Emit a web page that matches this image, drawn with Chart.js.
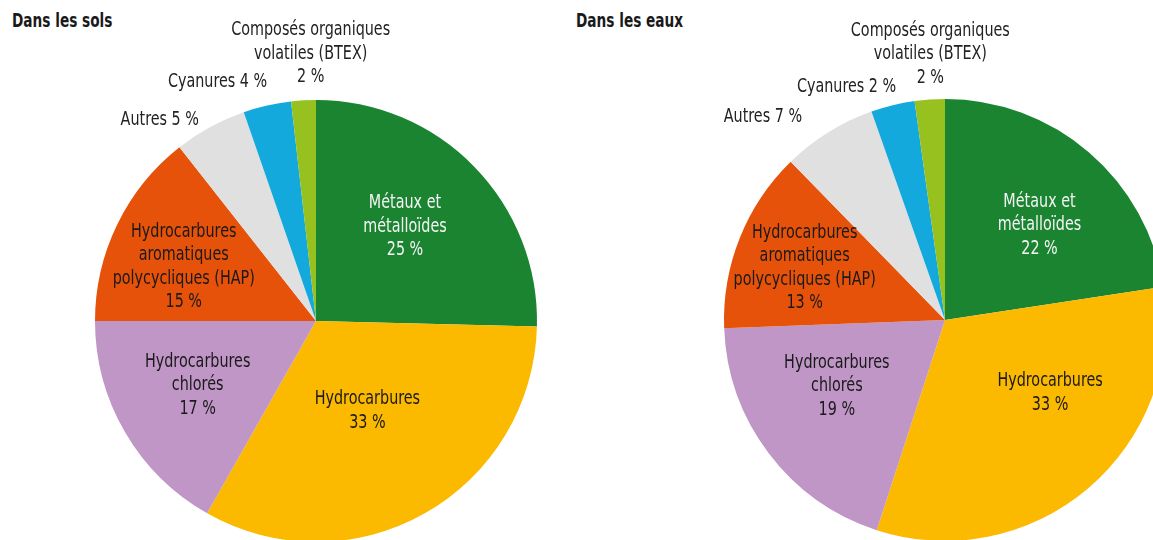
<!DOCTYPE html>
<html lang="fr">
<head>
<meta charset="utf-8">
<script src="https://cdn.jsdelivr.net/npm/chart.js@4.4.1/dist/chart.umd.min.js"></script>
<style>
  html, body { margin: 0; padding: 0; background: #fff; }
  body { width: 1153px; height: 540px; overflow: hidden; position: relative; }
  .title {
    position: absolute; top: 9px;
    font: bold 19px "DejaVu Sans Condensed", "DejaVu Sans", sans-serif;
    color: #1a1a1a;
    transform: scaleX(0.8);
    transform-origin: 0 0;
    white-space: nowrap;
  }
  .wrap { position: absolute; top: 0; }
</style>
</head>
<body>
<div class="title" style="left:12px">Dans les sols</div>
<div class="title" style="left:576px">Dans les eaux</div>
<div class="wrap" style="left:0"><canvas id="sols" width="576" height="560"></canvas></div>
<div class="wrap" style="left:576px"><canvas id="eaux" width="620" height="560"></canvas></div>

<script>
// catégories, dans l'ordre horaire depuis midi
const categories = [
  ['Métaux et', 'métalloïdes'],
  ['Hydrocarbures'],
  ['Hydrocarbures', 'chlorés'],
  ['Hydrocarbures', 'aromatiques', 'polycycliques (HAP)'],
  ['Autres'],
  ['Cyanures'],
  ['Composés organiques', 'volatiles (BTEX)']
];

// parts mesurées sur le dessin (en %)
const valeursSols = [25.4, 32.8, 16.8, 14.4, 5.3, 3.5, 1.8];
const valeursEaux = [22.6, 32.4, 19.4, 13.3, 6.9, 3.2, 2.2];

// pourcentages imprimés sur le graphique
const etiquettesSols = [25, 33, 17, 15, 5, 4, 2];
const etiquettesEaux = [22, 33, 19, 13, 7, 2, 2];

const couleurs = ['#1b8431', '#fbb900', '#bf96c6', '#e6520a', '#e0e0e0', '#13a9dd', '#96c11f'];
const couleursTexte = ['#f4f4f4', '#1a1a1a', '#1a1a1a', '#1a1a1a', '#222', '#222', '#222'];

// placement des étiquettes : [fraction du rayon, décalage angulaire en degrés, sur une ligne ?]
const placeSols = [[0.587, -2.4], [0.469, -0.2], [0.609, 1.8], [0.646, -3.8], [1.153, -9.2, true], [1.17, -9.6, true], [1.21, 2.1]];
const placeEaux = [[0.605, 4.3], [0.579, -14.9], [0.574, 5.6], [0.677, -1.5], [1.235, -10, true], [1.146, -9.2, true], [1.205, 0.8]];

const FONT = '19px "DejaVu Sans Condensed", "DejaVu Sans", sans-serif';
const NARROW = 0.84;   // police étroite
const LINE = 23.5;

const pieLabels = {
  id: 'pieLabels',
  afterDatasetsDraw(chart, args, opts) {
    const ctx = chart.ctx;
    const arcs = chart.getDatasetMeta(0).data;
    ctx.save();
    ctx.font = FONT;
    ctx.textAlign = 'center';
    ctx.textBaseline = 'middle';
    arcs.forEach((arc, i) => {
      const { x, y, startAngle, endAngle, outerRadius } = arc.getProps(['x', 'y', 'startAngle', 'endAngle', 'outerRadius'], true);
      const [frac, dDeg, oneLine] = opts.place[i];
      const a = (startAngle + endAngle) / 2 + dDeg * Math.PI / 180;
      const cx = x + Math.cos(a) * outerRadius * frac;
      const cy = y + Math.sin(a) * outerRadius * frac;
      const pct = opts.pct[i] + ' %';
      const lines = oneLine ? [categories[i].join(' ') + ' ' + pct] : [...categories[i], pct];
      ctx.fillStyle = couleursTexte[i];
      const top = cy - (lines.length - 1) * LINE / 2;
      lines.forEach((t, k) => {
        ctx.save();
        ctx.translate(cx, top + k * LINE);
        ctx.scale(NARROW, 1);
        ctx.fillText(t, 0, 0);
        ctx.restore();
      });
    });
    ctx.restore();
  }
};

function makePie(id, values, pct, place, padding) {
  return new Chart(document.getElementById(id), {
    type: 'pie',
    data: {
      labels: categories.map(c => c.join(' ')),
      datasets: [{
        data: values,
        backgroundColor: couleurs,
        borderWidth: 0
      }]
    },
    options: {
      responsive: false,
      devicePixelRatio: 1,
      animation: false,
      events: [],
      layout: { padding },
      plugins: {
        legend: { display: false },
        tooltip: { enabled: false },
        pieLabels: { pct, place }
      }
    },
    plugins: [pieLabels]
  });
}

makePie('sols', valeursSols, etiquettesSols, placeSols, { left: 95, right: 39, top: 100, bottom: 18 });
makePie('eaux', valeursEaux, etiquettesEaux, placeEaux, { left: 148, right: 30, top: 99, bottom: 19 });
</script>
</body>
</html>
